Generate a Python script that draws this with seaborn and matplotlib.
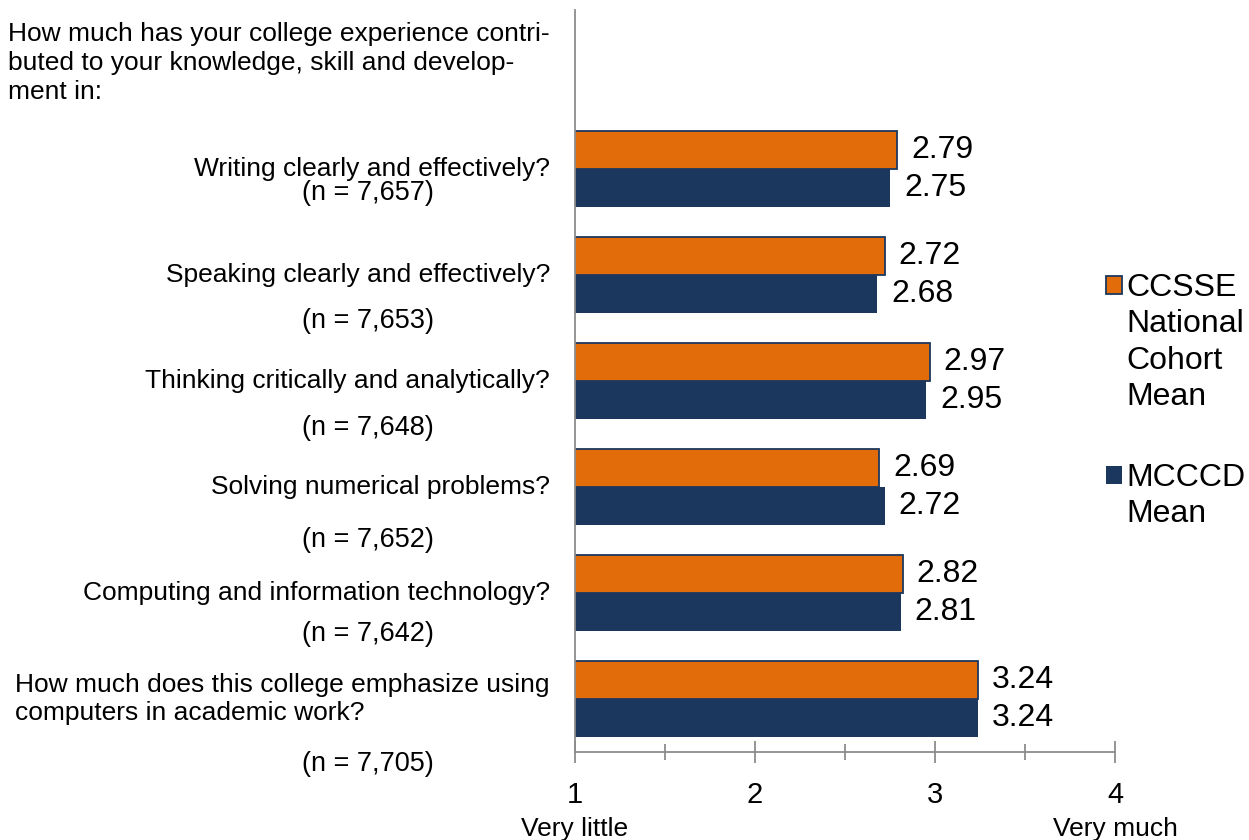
import matplotlib
matplotlib.use("Agg")
import matplotlib.pyplot as plt
import pandas as pd
import seaborn as sns
from matplotlib.patches import Patch
from matplotlib.ticker import FixedLocator, MultipleLocator
from matplotlib.transforms import blended_transform_factory

# data
header = ("How much has your college experience contri-\n"
          "buted to your knowledge, skill and develop-\n"
          "ment in:")
questions = [
    "Writing clearly and effectively?",
    "Speaking clearly and effectively?",
    "Thinking critically and analytically?",
    "Solving numerical problems?",
    "Computing and information technology?",
    "How much does this college emphasize using\ncomputers in academic work?",
]
n_labels = ["(n = 7,657)", "(n = 7,653)", "(n = 7,648)",
            "(n = 7,652)", "(n = 7,642)", "(n = 7,705)"]
national_mean = [2.79, 2.72, 2.97, 2.69, 2.82, 3.24]
mcccd_mean = [2.75, 2.68, 2.95, 2.72, 2.81, 3.24]
series = ["CCSSE\nNational\nCohort\nMean", "MCCCD\nMean"]
x_ticks = [1, 2, 3, 4]
x_ends = ["Very little", "Very much"]

# layout of the left hand labels (offset of the n-label below the question)
n_offset = [0.23, 0.43, 0.44, 0.50, 0.39, 0.61]

ORANGE = "#E36C0A"
NAVY = "#1B375E"
GREY = "#8C8C8C"
LABEL_FS = 19

plt.rcParams["font.family"] = ["Liberation Sans", "DejaVu Sans"]

df = pd.DataFrame({
    "question": questions * 2,
    "group": [series[0]] * len(questions) + [series[1]] * len(questions),
    "value": national_mean + mcccd_mean,
})

fig = plt.figure(figsize=(12.49, 8.4), dpi=100)
ax = fig.add_axes([575 / 1249, 1 - 752 / 840, 540 / 1249, 742 / 840])

sns.barplot(data=df, y="question", x="value", hue="group",
            order=[header] + questions, hue_order=series,
            palette=[ORANGE, NAVY], width=0.72, orient="h",
            saturation=1, legend=False, ax=ax)

for bar in ax.containers[0]:
    bar.set_edgecolor(NAVY)
    bar.set_linewidth(1.3)
for bar in ax.containers[1]:
    bar.set_linewidth(0)

for cont in ax.containers:
    ax.bar_label(cont, fmt="%.2f", padding=10, fontsize=23)

ax.set_xlim(1, 4)
ax.set_ylim(6.5, -0.5)
ax.xaxis.set_major_locator(FixedLocator(x_ticks))
ax.xaxis.set_minor_locator(MultipleLocator(0.5))
ax.tick_params(axis="x", which="major", direction="inout", length=16,
               width=1.3, color=GREY, labelsize=21, pad=13)
ax.tick_params(axis="x", which="minor", direction="inout", length=12,
               width=1.3, color=GREY)
ax.tick_params(axis="y", length=0, labelleft=False)
ax.set_xlabel("")
ax.set_ylabel("")
for side in ["top", "right"]:
    ax.spines[side].set_visible(False)
for side in ["left", "bottom"]:
    ax.spines[side].set_color(GREY)
    ax.spines[side].set_linewidth(1.3)

# left hand labels
tr = blended_transform_factory(fig.transFigure, ax.transData)
ax.text(8 / 1249, 0, header, transform=tr, ha="left", va="center",
        fontsize=LABEL_FS, linespacing=1.25)
for i, (q, n) in enumerate(zip(questions, n_labels)):
    y = i + 1
    if "\n" in q:
        ax.text(15 / 1249, y, q, transform=tr, ha="left", va="center",
                fontsize=LABEL_FS, linespacing=1.25)
    else:
        ax.text(550 / 1249, y, q, transform=tr, ha="right", va="center",
                fontsize=LABEL_FS)
    ax.text(302 / 1249, y + n_offset[i], n, transform=tr, ha="left",
            va="center", fontsize=19.5)

# scale end labels
tr2 = blended_transform_factory(ax.transData, fig.transFigure)
ax.text(x_ticks[0], 1 - 829 / 840, x_ends[0], transform=tr2, ha="center",
        va="center", fontsize=LABEL_FS)
ax.text(x_ticks[-1], 1 - 829 / 840, x_ends[1], transform=tr2, ha="center",
        va="center", fontsize=LABEL_FS)

# legend: square handle next to the first line of each label
blank = Patch(facecolor="none", edgecolor="none")
handles = [Patch(facecolor=ORANGE, edgecolor=NAVY, linewidth=1.3),
           Patch(facecolor=NAVY, edgecolor=NAVY, linewidth=0)]
tops = [1 - 273 / 840, 1 - 463 / 840]
for handle, label, top in zip(handles, series, tops):
    lines = label.split("\n")
    leg = fig.legend([handle] + [blank] * (len(lines) - 1), lines,
                     loc="upper left", bbox_to_anchor=(1106 / 1249, top),
                     frameon=False, fontsize=23, handlelength=0.5,
                     handleheight=0.5, handletextpad=0.15,
                     labelspacing=0.2, borderpad=0, borderaxespad=0)

fig.savefig("out.png", dpi=100)
